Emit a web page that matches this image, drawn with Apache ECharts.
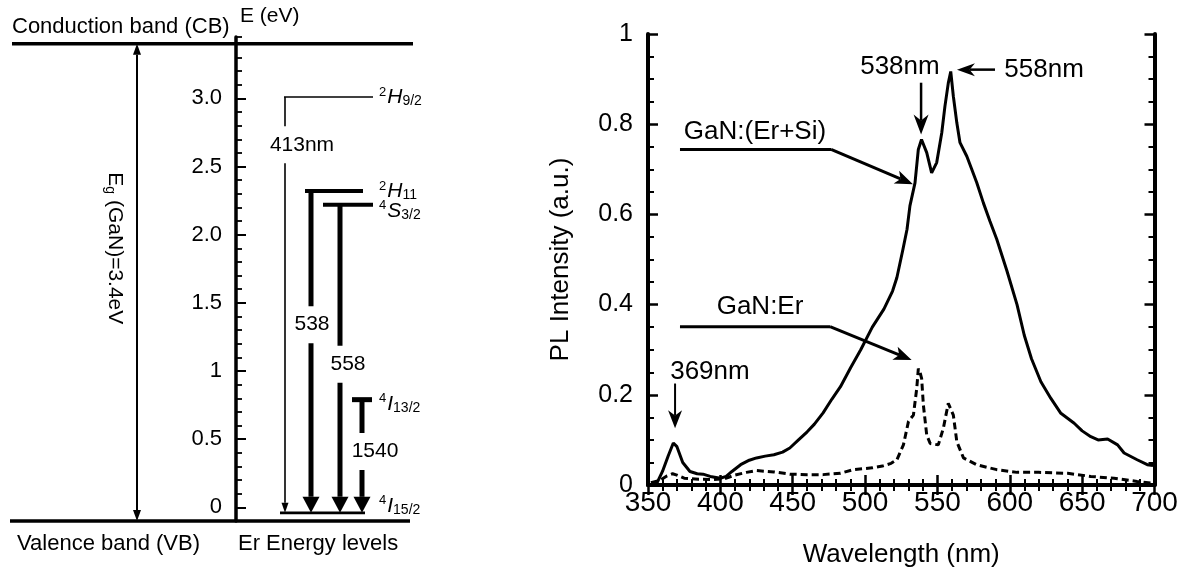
<!DOCTYPE html>
<html>
<head>
<meta charset="utf-8">
<script src="https://cdn.jsdelivr.net/npm/echarts@6/dist/echarts.min.js"></script>
<style>
  html, body { margin: 0; padding: 0; background: #fff; }
  #chart { width: 1182px; height: 573px; }
</style>
</head>
<body>
<div id="chart"></div>
<script>
const FONT = 'Liberation Sans, Arial, Helvetica, sans-serif';

// ---------- PL spectrum (right panel) ----------
const wavelengthErSi = [352, 356, 360, 364, 367.5, 370, 374, 379, 384, 388, 393, 400, 404, 408, 414, 420, 425, 431, 437, 443,
  448, 454, 460, 465, 471, 477, 483, 490, 497, 505, 513, 519, 522, 526, 529, 531, 534.5, 536.8, 539, 542.6,
  546, 549.5, 553, 555.2, 557.5, 559.2, 561, 563.4, 565.6, 570.3, 573.7, 577.2, 581.8, 586.3, 591, 598, 605, 610, 615, 621.5,
  628.4, 635.3, 644.5, 650, 656, 661, 667.6, 674.5, 679, 688, 695, 699];
const intensityErSi = [0, 0.003, 0.03, 0.065, 0.093, 0.085, 0.05, 0.03, 0.025, 0.024, 0.019, 0.015, 0.019, 0.03, 0.045, 0.055, 0.06, 0.064, 0.067, 0.073,
  0.082, 0.1, 0.118, 0.135, 0.16, 0.19, 0.218, 0.26, 0.3, 0.35, 0.39, 0.43, 0.46, 0.52, 0.567, 0.619, 0.67, 0.744, 0.766, 0.737,
  0.692, 0.715, 0.781, 0.84, 0.891, 0.917, 0.862, 0.803, 0.759, 0.729, 0.7, 0.67, 0.625, 0.585, 0.545, 0.475, 0.4, 0.332, 0.28, 0.229,
  0.192, 0.159, 0.137, 0.12, 0.107, 0.1, 0.102, 0.089, 0.071, 0.056, 0.045, 0.043];

const wavelengthEr = [352, 358, 363, 367, 370, 375, 385, 395, 403, 410, 418, 425, 437, 448, 460, 471, 483, 492, 505, 512,
  518, 522, 526.5, 530, 533.4, 535.7, 536.8, 538, 539.1, 540.3, 542.6, 545, 550.6, 554.1, 557.5, 559, 561, 563.4, 568, 577,
  591, 605, 620, 640, 656, 672, 688, 699];
const intensityEr = [0.005, 0.01, 0.02, 0.025, 0.022, 0.015, 0.013, 0.012, 0.014, 0.022, 0.028, 0.032, 0.029, 0.024, 0.023, 0.023, 0.026, 0.034, 0.038, 0.042,
  0.048, 0.056, 0.089, 0.141, 0.155, 0.214, 0.258, 0.25, 0.236, 0.177, 0.111, 0.092, 0.089, 0.126, 0.181, 0.17, 0.155, 0.096, 0.06, 0.045,
  0.034, 0.028, 0.028, 0.026, 0.019, 0.015, 0.008, 0.004];

const specNotes = ['GaN:(Er+Si)', 'GaN:Er', '369nm', '538nm', '558nm'];

// ---------- Er energy levels (left panel) ----------
const levelNames = ['{sup|2}{it|H}{sub|9/2}', '{sup|2}{it|H}{sub|11}', '{sup|4}{it|S}{sub|3/2}', '{sup|4}{it|I}{sub|13/2}', '{sup|4}{it|I}{sub|15/2}'];
const levelEnergy = [3.01, 2.32, 2.22, 0.79, -0.04];
const transitionNames = ['413nm', '538', '558', '1540'];
const transitionFrom = [3.01, 2.32, 2.22, 0.79];
const groundEnergy = -0.04;
const cbEnergy = 3.4;
const vbEnergy = -0.1;
const energyTickLabels = ['0', '0.5', '1', '1.5', '2.0', '2.5', '3.0'];

// ---------- layout ----------
const E_TOP = 37, E_MAX = 3.45, E_MIN = -0.1, E_H = 484;
const PX_PER_EV = E_H / (E_MAX - E_MIN);
const levelX = [[284, 373], [305, 363], [323, 373], [352, 372], [280, 365]];
const levelW = [1.6, 4, 4, 5, 2.8];
const levelLabelDy = [0, 0, 6, 4, -7];
const transX = [285, 311, 340, 362];
const transW = [1.6, 5, 5, 5];
const transHead = [[10, 3.5], [16, 8.5], [16, 8.5], [16, 8.5]];
const transLabelAt = [[302, 2.66], [312, 1.34], [348, 1.05], [375, 0.41]];

const noteAt = [[423.9, 0.784], [427.4, 0.395], [392.8, 0.252], [524.1, 0.927], [623.7, 0.921]];

function segSeries(xi, yi, segs, z) {
  return {
    type: 'custom', xAxisIndex: xi, yAxisIndex: yi, z: z || 3, silent: true, clip: false,
    data: segs.map(s => [s.from[0], s.from[1], s.to[0], s.to[1]]),
    renderItem(params, api) {
      const s = segs[params.dataIndex];
      const a = api.coord([api.value(0), api.value(1)]);
      const b = api.coord([api.value(2), api.value(3)]);
      const dx = b[0] - a[0], dy = b[1] - a[1];
      const L = Math.hypot(dx, dy) || 1;
      const ux = dx / L, uy = dy / L, nx = -uy, ny = ux;
      const kids = [];
      const head = (tip, sg) => {
        const len = s.head[0], hw = s.head[1], notch = s.notch || 0;
        const bx = tip[0] - sg * ux * len, by = tip[1] - sg * uy * len;
        const cx = tip[0] - sg * ux * len * (1 - notch), cy = tip[1] - sg * uy * len * (1 - notch);
        kids.push({ type: 'polygon', shape: { points: [tip, [bx + nx * hw, by + ny * hw], [cx, cy], [bx - nx * hw, by - ny * hw]] },
          style: { fill: '#000' } });
        return [cx, cy];
      };
      let p0 = a, p1 = b;
      if (s.head) { p1 = head(b, 1); if (s.both) p0 = head(a, -1); }
      kids.unshift({ type: 'line', shape: { x1: p0[0], y1: p0[1], x2: p1[0], y2: p1[1] },
        style: { stroke: '#000', lineWidth: s.width, lineCap: 'butt' } });
      return { type: 'group', children: kids };
    }
  };
}

// left diagram segments
const leftSegs = [
  { from: [12, cbEnergy], to: [413, cbEnergy], width: 3.5 },
  { from: [10, vbEnergy], to: [410, vbEnergy], width: 3.5 },
  { from: [137, vbEnergy], to: [137, cbEnergy], width: 2, head: [11, 4], both: true }
];
levelEnergy.forEach((e, i) => leftSegs.push({ from: [levelX[i][0], e], to: [levelX[i][1], e], width: levelW[i] }));
transitionFrom.forEach((e, i) => leftSegs.push({ from: [transX[i], e], to: [transX[i], groundEnergy], width: transW[i], head: transHead[i] }));

// right chart annotation arrows
const rightSegs = [
  { from: [372.1, 0.744], to: [476.5, 0.744], width: 3 },
  { from: [476.5, 0.744], to: [533.1, 0.667], width: 3, head: [18, 7], notch: 0.25 },
  { from: [372.1, 0.351], to: [475.8, 0.351], width: 3 },
  { from: [475.8, 0.351], to: [532.2, 0.277], width: 3, head: [18, 7], notch: 0.25 },
  { from: [368.7, 0.225], to: [368.7, 0.126], width: 2, head: [18, 7], notch: 0.3 },
  { from: [538.7, 0.892], to: [538.7, 0.777], width: 2.5, head: [20, 7.5], notch: 0.3 },
  { from: [589.8, 0.921], to: [563.5, 0.921], width: 2.5, head: [18, 6.5], notch: 0.3 }
];

const hiddenX = (g) => ({ gridIndex: g, type: 'value', min: 0, max: 420, show: false });
const solid = { opacity: 1 };

const option = {
  backgroundColor: '#fff',
  animation: false,
  textStyle: { fontFamily: FONT, color: '#000' },
  grid: [
    { left: 0, top: E_TOP, width: 420, height: E_H },
    { left: 236, top: E_TOP, width: 150, height: E_H },
    { left: 236, top: E_TOP + (E_MAX - 3) * PX_PER_EV, width: 150, height: 3 * PX_PER_EV },
    { left: 648, top: 34, width: 506.5, height: 453 }
  ],
  xAxis: [
    hiddenX(0), hiddenX(1), hiddenX(2),
    {
      gridIndex: 3, type: 'value', position: 'bottom', min: 350, max: 700, interval: 50,
      axisLine: { lineStyle: { color: '#000', width: 4 } },
      axisTick: { inside: true, length: 10, lineStyle: { color: '#000', width: 2.5 } },
      minorTick: { show: true, splitNumber: 5, length: 6, lineStyle: { color: '#000', width: 2 } },
      splitLine: { show: false },
      axisLabel: { fontSize: 28, color: '#000', margin: 4, fontFamily: FONT },
      name: 'Wavelength (nm)', nameLocation: 'middle', nameGap: 57,
      nameTextStyle: { fontSize: 26, color: '#000', fontFamily: FONT }
    },
    {
      gridIndex: 3, type: 'value', position: 'top', min: 350, max: 700, interval: 50,
      axisLine: { lineStyle: { color: '#000', width: 4 } },
      axisTick: { inside: true, length: 10, lineStyle: { color: '#000', width: 2.5 } },
      minorTick: { show: true, splitNumber: 5, length: 6, lineStyle: { color: '#000', width: 2 } },
      splitLine: { show: false }, axisLabel: { show: false }
    }
  ],
  yAxis: [
    { gridIndex: 0, type: 'value', min: E_MIN, max: E_MAX, show: false },
    {
      gridIndex: 1, type: 'value', min: E_MIN, max: E_MAX, interval: 0.1,
      axisLine: { lineStyle: { color: '#000', width: 3.5 } },
      axisTick: { inside: true, length: 6, lineStyle: { color: '#000', width: 1.8 } },
      axisLabel: { show: false }, splitLine: { show: false },
      name: 'E (eV)', nameLocation: 'end', nameGap: 10,
      nameTextStyle: { fontSize: 21, color: '#000', align: 'left', verticalAlign: 'bottom', padding: [0, 0, 0, 4], fontFamily: FONT }
    },
    {
      gridIndex: 2, type: 'value', min: 0, max: 3, interval: 0.5,
      axisLine: { show: false },
      axisTick: { show: true, inside: true, length: 10, lineStyle: { color: '#000', width: 2 } },
      axisLabel: { fontSize: 22, color: '#000', margin: 14, fontFamily: FONT,
        formatter: v => energyTickLabels[Math.round(v / 0.5)] },
      splitLine: { show: false }
    },
    {
      gridIndex: 3, type: 'value', position: 'left', min: 0, max: 1, interval: 0.2,
      axisLine: { lineStyle: { color: '#000', width: 4 } },
      axisTick: { inside: true, length: 10, lineStyle: { color: '#000', width: 2.5 } },
      minorTick: { show: true, splitNumber: 4, length: 6, lineStyle: { color: '#000', width: 2 } },
      splitLine: { show: false },
      axisLabel: { fontSize: 25, color: '#000', margin: 15, fontFamily: FONT },
      name: 'PL Intensity (a.u.)', nameLocation: 'middle', nameGap: 74,
      nameTextStyle: { fontSize: 26, color: '#000', fontFamily: FONT }
    },
    {
      gridIndex: 3, type: 'value', position: 'right', min: 0, max: 1, interval: 0.2,
      axisLine: { lineStyle: { color: '#000', width: 4 } },
      axisTick: { inside: true, length: 10, lineStyle: { color: '#000', width: 2.5 } },
      minorTick: { show: true, splitNumber: 4, length: 6, lineStyle: { color: '#000', width: 2 } },
      splitLine: { show: false }, axisLabel: { show: false }
    }
  ],
  graphic: [
    { type: 'text', left: 12, top: 16, style: { text: 'Conduction band (CB)', fontSize: 22, fontFamily: FONT, fill: '#000' } },
    { type: 'text', left: 17, top: 533, style: { text: 'Valence band (VB)', fontSize: 22, fontFamily: FONT, fill: '#000' } },
    { type: 'text', left: 238, top: 533, style: { text: 'Er Energy levels', fontSize: 22, fontFamily: FONT, fill: '#000' } }
  ],
  series: [
    segSeries(0, 0, leftSegs, 3),
    {
      type: 'scatter', xAxisIndex: 0, yAxisIndex: 0, symbolSize: 0, silent: true, z: 6, itemStyle: solid,
      data: transitionNames.map((t, i) => ({ value: transLabelAt[i], name: t })),
      label: { show: true, position: 'inside', formatter: p => p.name, fontSize: 21, color: '#000',
        fontFamily: FONT, backgroundColor: '#fff', padding: [8, 1] }
    },
    {
      type: 'scatter', xAxisIndex: 0, yAxisIndex: 0, symbolSize: 0, silent: true, z: 6, itemStyle: solid,
      data: levelNames.map((t, i) => ({ value: [379, levelEnergy[i]], name: t, label: { offset: [0, levelLabelDy[i]] } })),
      label: {
        show: true, position: 'right', distance: 0, formatter: p => p.name, color: '#000', fontFamily: FONT,
        rich: {
          sup: { fontSize: 13, verticalAlign: 'top', fontFamily: FONT, color: '#000', padding: [0, 1, 0, 0] },
          it: { fontSize: 21, fontStyle: 'italic', lineHeight: 23, fontFamily: FONT, color: '#000' },
          sub: { fontSize: 14, verticalAlign: 'bottom', fontFamily: FONT, color: '#000' }
        }
      }
    },
    {
      type: 'scatter', xAxisIndex: 0, yAxisIndex: 0, symbolSize: 0, silent: true, z: 6, itemStyle: solid,
      data: [{ value: [115, 1.9], name: 'Eg' }],
      label: {
        show: true, position: 'inside', rotate: -90, color: '#000', fontFamily: FONT,
        formatter: '{n|E}{s|g}{n| (GaN)=3.4eV}',
        rich: { n: { fontSize: 21, fontFamily: FONT, lineHeight: 24, color: '#000' },
          s: { fontSize: 14, verticalAlign: 'bottom', fontFamily: FONT, color: '#000' } }
      }
    },
    {
      type: 'line', xAxisIndex: 3, yAxisIndex: 3, showSymbol: false, symbol: 'none', silent: true, z: 4,
      data: wavelengthErSi.map((w, i) => [w, intensityErSi[i]]),
      lineStyle: { color: '#000', width: 3 }
    },
    {
      type: 'line', xAxisIndex: 3, yAxisIndex: 3, showSymbol: false, symbol: 'none', silent: true, z: 4,
      data: wavelengthEr.map((w, i) => [w, intensityEr[i]]),
      lineStyle: { color: '#000', width: 3, type: [7, 4] }
    },
    segSeries(3, 3, rightSegs, 5),
    {
      type: 'scatter', xAxisIndex: 3, yAxisIndex: 3, symbolSize: 0, silent: true, z: 6, itemStyle: solid,
      data: specNotes.map((t, i) => ({ value: noteAt[i], name: t })),
      label: { show: true, position: 'inside', formatter: p => p.name, fontSize: 26, color: '#000', fontFamily: FONT }
    }
  ]
};

const chart = echarts.init(document.getElementById('chart'));
chart.setOption(option);
</script>
</body>
</html>
